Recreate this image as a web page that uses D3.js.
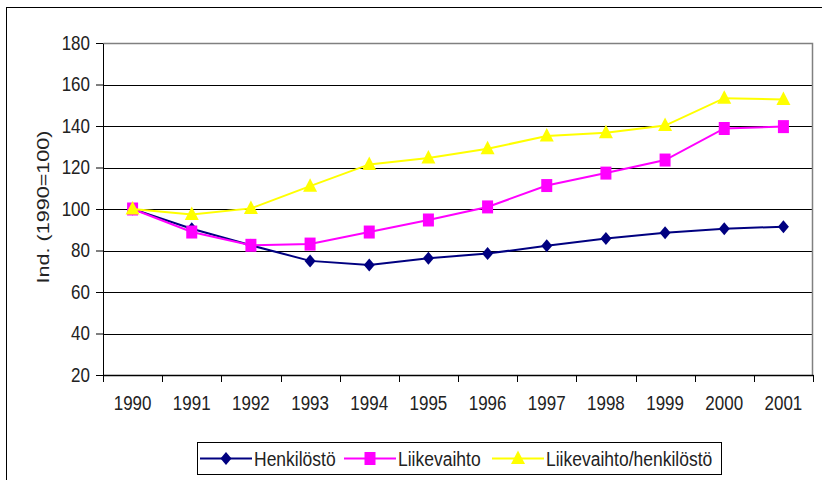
<!DOCTYPE html>
<html>
<head>
<meta charset="utf-8">
<script src="https://cdn.jsdelivr.net/npm/d3@7"></script>
<style>
  body { margin: 0; background: #fff; }
  text { font-family: "Liberation Sans", Arial, sans-serif; fill: #222; }
</style>
</head>
<body>
<div id="chart"></div>
<script>
// chart values
var years = ["1990", "1991", "1992", "1993", "1994", "1995", "1996", "1997", "1998", "1999", "2000", "2001"];
var henkilosto = [100, 90.5, 82.5, 75, 73, 76.3, 78.5, 82.3, 85.8, 88.6, 90.5, 91.5];
var liikevaihto = [100, 88.9, 82.5, 83.1, 88.9, 94.7, 101, 111.3, 117.3, 123.6, 138.8, 139.7];
var suhde = [100, 97.3, 100.3, 111, 121.5, 124.6, 129, 135.2, 136.8, 140.2, 153.4, 152.8];
var yTicks = [20, 40, 60, 80, 100, 120, 140, 160, 180];
var seriesNames = ["Henkilöstö", "Liikevaihto", "Liikevaihto/henkilöstö"];

var series = [
    {name: seriesNames[0], values: henkilosto, color: "#000080", shape: "diamond"},
    {name: seriesNames[1], values: liikevaihto, color: "#FF00FF", shape: "square"},
    {name: seriesNames[2], values: suhde, color: "#FFFF00", shape: "triangle"}
];

var W = 822, H = 480;
var margin = {top: 43, right: 9, bottom: 105, left: 103},
    width = W - margin.left - margin.right,
    height = H - margin.top - margin.bottom;

// the original picture is a bit taller than wide, so text gets stretched
var STRETCH = 1.15;
function stretch(sel, k) {
    sel.each(function() {
        var t = d3.select(this);
        var xx = +t.attr("x") || 0, yy = +t.attr("y") || 0;
        t.attr("x", 0).attr("y", 0)
            .attr("transform", "translate(" + xx + "," + yy + ") scale(1," + k + ")");
    });
}

var svg = d3.select("#chart").append("svg")
    .attr("width", W)
    .attr("height", H);

// outer chart frame
svg.append("rect")
    .attr("x", 6.5).attr("y", 7.5)
    .attr("width", W + 10).attr("height", H + 10)
    .attr("fill", "none").attr("stroke", "#000").attr("stroke-width", 1);

var g = svg.append("g")
    .attr("transform", "translate(" + margin.left + "," + margin.top + ")");

var x = d3.scaleBand().domain(years).range([0, width]);
var y = d3.scaleLinear().domain([20, 180]).range([height, 0]);

// gridlines
g.selectAll(".grid").data(yTicks.slice(1, -1)).enter().append("line")
    .attr("x1", 0).attr("x2", width)
    .attr("y1", function(d) { return Math.round(y(d)) + 0.5; })
    .attr("y2", function(d) { return Math.round(y(d)) + 0.5; })
    .attr("stroke", "#000").attr("stroke-width", 1);

// plot area border (top / right grey)
g.append("path")
    .attr("d", "M0.5,0.5H" + (width - 0.5) + "V" + height)
    .attr("fill", "none").attr("stroke", "#808080").attr("stroke-width", 1.5);

// y axis
var yAxis = g.append("g")
    .call(d3.axisLeft(y).tickValues(yTicks).tickSize(7).tickSizeOuter(0).tickPadding(6));
yAxis.select(".domain").attr("stroke", "#000");
yAxis.selectAll("line").attr("stroke", "#000");
yAxis.selectAll("text").style("font-size", "17px").attr("fill", "#222");
stretch(yAxis.selectAll("text"), STRETCH);

// x axis, ticks between categories
var xAxis = g.append("g")
    .attr("transform", "translate(0," + height + ")")
    .call(d3.axisBottom(x).tickSize(0));
xAxis.select(".domain").attr("stroke", "#000").attr("stroke-width", 1.5);
xAxis.selectAll("text")
    .style("font-size", "17px").attr("fill", "#222")
    .attr("y", 28).attr("dy", "0.35em");
stretch(xAxis.selectAll("text"), STRETCH);
xAxis.selectAll(".sep").data(years.concat(["end"])).enter().append("line")
    .attr("class", "sep")
    .attr("x1", function(d, i) { return Math.round(i * x.step()) + 0.5; })
    .attr("x2", function(d, i) { return Math.round(i * x.step()) + 0.5; })
    .attr("y1", 0).attr("y2", 7)
    .attr("stroke", "#000");

// y axis title
svg.append("text")
    .attr("transform", "translate(49,207) rotate(-90) scale(1.27,1)")
    .attr("text-anchor", "middle")
    .style("font-size", "17px")
    .text("Ind. (1990=100)");

// excel-like markers, a little taller than wide
function marker(sel, shape, color) {
    var d;
    if (shape == "diamond") d = "M0,-6.5L5.5,0L0,6.5L-5.5,0Z";
    else if (shape == "square") d = "M-5.5,-6.5H5.5V6.5H-5.5Z";
    else d = "M0,-8L7,5.5H-7Z";
    sel.append("path")
        .attr("d", d)
        .attr("fill", color);
}

var line = d3.line()
    .x(function(d, i) { return x(years[i]) + x.bandwidth() / 2; })
    .y(function(d) { return y(d); });

series.forEach(function(s) {
    g.append("path")
        .datum(s.values)
        .attr("class", "line")
        .attr("fill", "none")
        .attr("stroke", s.color)
        .attr("stroke-width", 2)
        .attr("d", line);
    g.selectAll(".pt-" + s.shape).data(s.values).enter().append("g")
        .attr("transform", function(d, i) {
            return "translate(" + (x(years[i]) + x.bandwidth() / 2) + "," + y(d) + ")";
        })
        .each(function() { marker(d3.select(this), s.shape, s.color); });
});

// legend
var leg = svg.append("g").attr("transform", "translate(197,442)");
leg.append("rect")
    .attr("x", 0.5).attr("y", 0.5)
    .attr("width", 524).attr("height", 32)
    .attr("fill", "#fff").attr("stroke", "#000");

var legX = [3, 147, 295];
series.forEach(function(s, i) {
    var item = leg.append("g").attr("transform", "translate(" + legX[i] + ",16.5)");
    item.append("line")
        .attr("x1", 0).attr("x2", 52)
        .attr("stroke", s.color).attr("stroke-width", 2);
    item.append("g").attr("transform", "translate(26,0)")
        .each(function() { marker(d3.select(this), s.shape, s.color); });
    var t = item.append("text")
        .attr("x", 54).attr("y", 0).attr("dy", "0.35em")
        .style("font-size", "17.5px")
        .text(s.name);
    stretch(t, STRETCH);
});
</script>
</body>
</html>
